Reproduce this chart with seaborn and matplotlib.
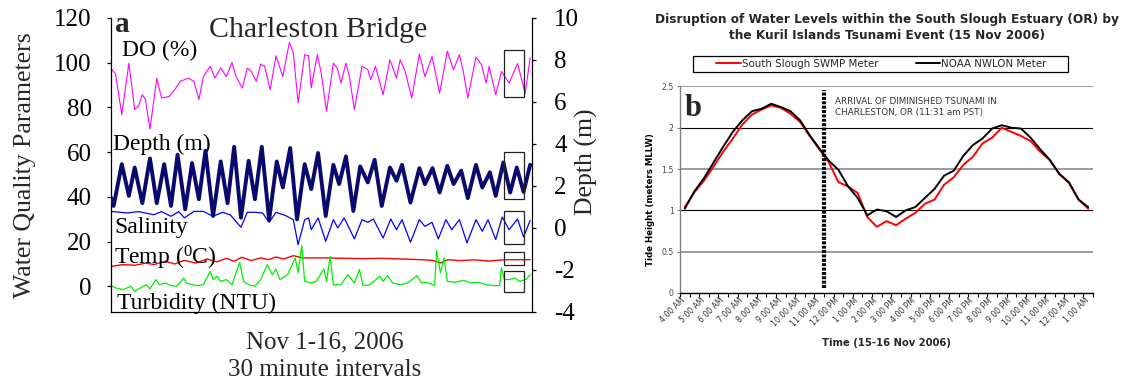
import numpy as np
import pandas as pd
import matplotlib
matplotlib.use("Agg")
import matplotlib.pyplot as plt
import matplotlib.transforms as mtransforms
from matplotlib.patches import Rectangle
import seaborn as sns

# ---------------- Panel a: Charleston Bridge (time in days from Nov 1) ----------------
DO_T = [0.03, 0.17, 0.41, 0.68, 0.90, 1.05, 1.19, 1.31, 1.48, 1.74, 1.92, 2.21, 2.42, 2.64, 2.79,
        2.93, 3.15, 3.34, 3.51, 3.77, 3.95, 4.17, 4.38, 4.60, 4.75, 4.99, 5.18, 5.33, 5.52, 5.69,
        5.84, 6.05, 6.27, 6.53, 6.78, 6.93, 7.11, 7.36, 7.51, 7.61, 7.84, 7.99, 8.19, 8.45, 8.60,
        8.74, 8.93, 9.06, 9.25, 9.54, 9.76, 9.87, 10.05, 10.34, 10.60, 10.85, 10.99, 11.18, 11.43,
        11.72, 11.93, 12.20, 12.49, 12.78, 13.02, 13.24, 13.39, 13.56, 13.87, 14.08, 14.26, 14.37,
        14.62, 14.84, 15.13, 15.45, 15.74, 15.93]
DO_V = [96.9, 95.1, 76.8, 99.8, 79.0, 80.8, 85.7, 83.5, 70.3, 93.1, 84.2, 84.9, 87.9, 91.7, 92.4,
        93.1, 91.7, 83.5, 93.8, 98.4, 93.1, 97.6, 93.8, 100.1, 93.8, 88.7, 97.6, 96.1, 91.7, 99.4,
        98.4, 87.9, 103.1, 93.8, 109.1, 104.3, 82.0, 103.6, 103.1, 88.7, 103.6, 95.4, 78.2, 99.8, 97.6,
        90.9, 99.8, 93.8, 79.0, 98.4, 96.9, 92.4, 98.4, 85.7, 101.3, 93.1, 101.3, 96.1, 84.2,
        103.9, 93.8, 102.8, 86.4, 105.1, 96.9, 103.6, 96.1, 84.2, 102.5, 99.1, 90.9, 98.4,
        85.7, 96.1, 90.9, 99.6, 86.4, 102.1]

DEPTH_T = [0.00, 0.10, 0.41, 0.68, 0.90, 1.19, 1.48, 1.74, 2.02, 2.28, 2.53, 2.82, 3.08, 3.34, 3.59,
           3.88, 4.17, 4.43, 4.68, 4.94, 5.23, 5.47, 5.73, 6.01, 6.30, 6.53, 6.81, 7.07, 7.36, 7.61,
           7.87, 8.16, 8.45, 8.67, 8.93, 9.21, 9.47, 9.76, 10.02, 10.29, 10.60, 10.85, 11.06, 11.38,
           11.72, 11.93, 12.22, 12.49, 12.78, 13.02, 13.31, 13.56, 13.87, 14.11, 14.40, 14.62, 14.91,
           15.17, 15.42, 15.68, 15.93]
DEPTH_M = [1.45, 1.05, 3.04, 1.53, 2.88, 1.18, 3.31, 1.18, 3.04, 1.05, 3.49, 0.89, 3.09, 1.37, 3.68,
           0.57, 3.17, 1.18, 3.87, 0.49, 3.20, 1.37, 3.87, 0.38, 3.17, 1.93, 3.81, 0.41, 3.04, 1.85,
           3.57, 0.57, 3.01, 2.09, 3.41, 0.81, 2.93, 2.17, 3.25, 1.05, 2.88, 2.25, 3.01, 1.21,
           2.85, 2.09, 2.85, 1.69, 2.96, 2.09, 2.73, 1.42, 3.01, 1.93, 2.65, 1.53, 3.12,
           1.69, 2.88, 1.72, 3.01]

SAL_T = [0.00, 0.61, 1.05, 1.63, 1.92, 2.28, 2.57, 2.79, 3.15, 3.51, 3.88, 4.24, 4.53, 4.94, 5.18,
         5.47, 5.76, 6.01, 6.27, 6.64, 6.93, 7.11, 7.36, 7.51, 7.61, 7.87, 8.16, 8.45, 8.62, 8.86,
         9.25, 9.54, 9.76, 9.97, 10.34, 10.63, 10.85, 11.06, 11.38, 11.72, 11.93, 12.20, 12.44,
         12.73, 12.95, 13.24, 13.53, 13.87, 14.11, 14.33, 14.62, 14.87, 15.13, 15.45, 15.68, 15.93]
SAL_V = [33.5, 32.8, 33.4, 32.0, 33.4, 31.3, 33.4, 30.6, 33.5, 33.5, 31.3, 33.1, 32.0, 26.4, 33.1,
         33.1, 32.8, 28.6, 33.1, 31.6, 29.8, 18.6, 29.8, 30.6, 25.3, 30.6, 20.1, 29.8, 26.1, 30.6,
         21.2, 29.8, 28.6, 30.1, 21.6, 30.1, 25.3, 29.8, 19.7, 29.8, 26.8, 28.6, 21.2,
         29.8, 25.3, 29.8, 19.4, 29.8, 24.6, 29.8, 20.9, 31.0, 25.3, 30.1, 22.1, 29.5]

TEMP_T = [0.00, 0.46, 0.90, 1.34, 1.63, 2.06, 2.42, 2.79, 3.22, 3.66, 4.02, 4.38, 4.68, 4.97, 5.33,
          5.69, 5.98, 6.27, 6.56, 6.93, 7.29, 8.16, 8.89, 9.61, 10.34, 11.06, 11.79, 12.22, 12.52,
          12.81, 13.24, 13.82, 14.40, 14.98, 15.93]
TEMP_V = [8.9, 9.7, 9.4, 10.4, 9.7, 11.2, 10.0, 11.6, 10.4, 12.2, 10.9, 12.5, 11.2, 13.0, 11.5,
          12.7, 11.9, 13.1, 12.2, 13.7, 12.7, 12.7, 12.5, 12.4, 12.5, 12.2, 11.9, 11.6, 10.4,
          11.9, 11.5, 11.8, 11.3, 11.9, 11.9]

TURB_T = [0.00, 0.17, 0.46, 0.75, 0.90, 1.19, 1.34, 1.48, 1.70, 1.84, 2.06, 2.28, 2.50, 2.76, 2.86,
          3.08, 3.30, 3.51, 3.77, 3.88, 4.02, 4.17, 4.38, 4.60, 4.89, 5.04, 5.23, 5.47, 5.69, 5.94,
          6.13, 6.27, 6.42, 6.71, 7.00, 7.11, 7.25, 7.36, 7.58, 7.80, 8.09, 8.19, 8.33, 8.45, 8.74,
          9.00, 9.25, 9.44, 9.58, 9.83, 10.22, 10.34, 10.51, 10.70, 10.99, 11.28, 11.62, 11.79,
          12.08, 12.30, 12.37, 12.52, 12.66, 12.78, 13.10, 13.39, 13.68, 13.97, 14.26, 14.55,
          14.77, 14.84, 14.95, 15.13, 15.35, 15.54, 15.80, 15.93]
TURB_V = [0.3, -0.7, -1.5, 0.0, -2.2, -0.3, 0.7, -1.2, 3.0, 0.7, 1.5, 0.3, 0.0, 3.7, 1.5,
          0.7, 0.3, 0.7, 6.7, 3.0, 4.5, 2.2, 3.0, 0.7, 10.7, 2.2, 0.7, 0.0, 3.0, 9.7,
          5.2, 7.7, 3.0, 5.2, 12.7, 6.0, 18.2, 2.2, 1.5, 2.2, 7.7, 2.2, 13.4, 0.7, 0.7,
          5.2, 1.5, 7.5, 0.3, 0.7, 4.5, 2.2, 4.8, 1.5, 0.7, 1.5, 4.8, 1.8,
          1.5, 0.3, 16.1, 6.0, 12.7, 2.2, 1.8, 2.7, 1.5, 1.8, 0.7, 0.3,
          0.3, 8.2, 3.0, 3.0, 3.7, 2.2, 3.3, 5.2]

# highlighted window (days) and value ranges of the boxes drawn around each series
HIGHLIGHT_T = (14.93, 15.71)
HIGHLIGHT_LEFT = [(84.6, 105.5), (19.0, 33.8), (9.3, 15.5), (-2.4, 7.0)]   # DO, salinity, temp, turbidity
HIGHLIGHT_DEPTH = (1.4, 3.6)

# ---------------- Panel b: tide heights, half-hourly from 4:00 AM ----------------
TIME_LABELS = ['4:00 AM', '5:00 AM', '6:00 AM', '7:00 AM', '8:00 AM', '9:00 AM', '10:00 AM',
               '11:00 AM', '12:00 PM', '1:00 PM', '2:00 PM', '3:00 PM', '4:00 PM', '5:00 PM',
               '6:00 PM', '7:00 PM', '8:00 PM', '9:00 PM', '10:00 PM', '11:00 PM', '12:00 AM',
               '1:00 AM']
SWMP = [1.04, 1.22, 1.36, 1.53, 1.71, 1.87, 2.04, 2.16, 2.22, 2.27, 2.24, 2.17, 2.07, 1.90, 1.74,
        1.58, 1.34, 1.29, 1.21, 0.92, 0.80, 0.87, 0.82, 0.90, 0.97, 1.08, 1.13, 1.31, 1.40, 1.55,
        1.65, 1.81, 1.88, 2.00, 1.95, 1.90, 1.84, 1.71, 1.61, 1.44, 1.33, 1.13, 1.02]
NWLON = [1.02, 1.23, 1.39, 1.58, 1.77, 1.95, 2.09, 2.20, 2.23, 2.29, 2.25, 2.20, 2.09, 1.91, 1.75,
         1.60, 1.49, 1.29, 1.15, 0.94, 1.01, 0.99, 0.92, 1.00, 1.04, 1.15, 1.26, 1.42, 1.48, 1.66,
         1.79, 1.87, 1.99, 2.03, 2.00, 1.99, 1.88, 1.74, 1.61, 1.44, 1.34, 1.13, 1.04]
TSUNAMI_X = 14.52          # category position of the arrival marker
TSUNAMI_Y = (0.06, 2.46)

# ---------------- styling ----------------
sns.set_theme(style="ticks")
SERIF = ['Liberation Serif', 'DejaVu Serif']
SANS = ['DejaVu Sans']
plt.rcParams['font.family'] = SERIF
plt.rcParams['axes.unicode_minus'] = False
plt.rcParams['mathtext.default'] = 'regular'

W, H = 1135, 383
fig = plt.figure(figsize=(W / 100, H / 100), dpi=100)
fig.patch.set_facecolor('white')

# ======================= Panel a =======================
axL = fig.add_axes([111 / W, 1 - 312 / H, 421 / W, 294 / H])
axD = axL.twinx()

sns.lineplot(x=DO_T, y=DO_V, ax=axL, color='#ff00ff', lw=0.8, estimator=None)
sns.lineplot(x=SAL_T, y=SAL_V, ax=axL, color='#0000ff', lw=0.9, estimator=None)
sns.lineplot(x=TEMP_T, y=TEMP_V, ax=axL, color='#ff0000', lw=1.0, estimator=None)
sns.lineplot(x=TURB_T, y=TURB_V, ax=axL, color='#00ee00', lw=0.9, estimator=None)
sns.lineplot(x=DEPTH_T, y=DEPTH_M, ax=axD, color='#0a0a6e', lw=2.8, estimator=None)

axL.set_xlim(0, 16)
axL.set_ylim(-11.5, 120)
axD.set_ylim(-4, 10)
axL.set_xticks([])
axD.set_xticks([])
axL.set_yticks(np.arange(0, 121, 20))
axD.set_yticks(np.arange(-4, 11, 2))
axL.set_xlabel('')
axL.set_ylabel('')
axD.set_ylabel('')
axL.set_facecolor('white')

for ax in (axL, axD):
    ax.spines['top'].set_visible(False)
    for s in ax.spines.values():
        s.set_color('black')
        s.set_linewidth(0.9)
axL.spines['right'].set_visible(False)
axD.spines['left'].set_visible(False)
axD.spines['bottom'].set_visible(False)

axL.tick_params(axis='y', direction='out', length=3, width=0.9, color='black',
                labelsize=18, pad=11, labelcolor='black')
axD.tick_params(axis='y', direction='out', length=3, width=0.9, color='black',
                labelsize=18, pad=13, labelcolor='black')
for lab in axL.get_yticklabels() + axD.get_yticklabels():
    lab.set_fontfamily(SERIF)

t0, t1 = HIGHLIGHT_T
for lo, hi in HIGHLIGHT_LEFT:
    axL.add_patch(Rectangle((t0, lo), t1 - t0, hi - lo, fill=False, ec='#222222', lw=0.9, zorder=5))
axD.add_patch(Rectangle((t0, HIGHLIGHT_DEPTH[0]), t1 - t0, HIGHLIGHT_DEPTH[1] - HIGHLIGHT_DEPTH[0],
                        fill=False, ec='#222222', lw=0.9, zorder=5))

lab_kw = dict(fontsize=17, ha='left', va='baseline', color='black', family=SERIF)
axL.text(0.41, 102.8, 'DO (%)', **lab_kw)
axL.text(0.07, 61.1, 'Depth (m)', **lab_kw)
axL.text(0.11, 23.9, 'Salinity', **lab_kw)
axL.text(0.11, 9.7, r'Temp ($^0$C)', **lab_kw)
axL.text(0.22, -10.1, 'Turbidity (NTU)', **lab_kw)

axL.text(0.01, 0.9534, 'a', transform=axL.transAxes, fontsize=21, fontweight='bold',
         ha='left', va='baseline', family=SERIF)
axL.text(0.4917, 0.9344, 'Charleston Bridge', transform=axL.transAxes, fontsize=21.5,
         ha='center', va='baseline', family=SERIF)

fig.text(25 / W, 1 - 165 / H, 'Water Quality Parameters', rotation=90, ha='center', va='center',
         fontsize=18.5, family=SERIF)
fig.text(586.5 / W, 1 - 161.7 / H, 'Depth (m)', rotation=90, ha='center', va='center',
         fontsize=18.5, family=SERIF)
fig.text(325 / W, 1 - 348.3 / H, 'Nov 1-16, 2006', ha='center', va='baseline', fontsize=18, family=SERIF)
fig.text(325 / W, 1 - 376 / H, '30 minute intervals', ha='center', va='baseline', fontsize=18, family=SERIF)

# ======================= Panel b =======================
axT = fig.add_axes([680 / W, 1 - 293 / H, 413 / W, 206.6 / H])
xcat = np.arange(len(SWMP))
sns.lineplot(x=xcat, y=SWMP, ax=axT, color='#ff0000', lw=1.4, label='South Slough SWMP Meter')
sns.lineplot(x=xcat, y=NWLON, ax=axT, color='black', lw=1.4, label='NOAA NWLON Meter')
handles, labels = axT.get_legend_handles_labels()
if axT.get_legend() is not None:
    axT.get_legend().remove()

axT.set_xlim(-0.5, len(SWMP) - 0.5)
axT.set_ylim(0, 2.5)
axT.set_facecolor('white')

yt = np.arange(0, 2.51, 0.5)
axT.set_yticks(yt)
axT.set_yticklabels(['0', '0.5', '1', '1.5', '2', '2.5'])
axT.yaxis.grid(True)
for gl, v in zip(axT.get_ygridlines(), yt):
    if abs(v - round(v)) < 1e-9:
        gl.set_color('black'); gl.set_linewidth(0.8)
    else:
        gl.set_color('#8a8a8a'); gl.set_linewidth(1.2)
axT.xaxis.grid(False)
axT.set_axisbelow(True)

axT.set_xticks(np.arange(0, len(SWMP), 2))
axT.set_xticklabels(TIME_LABELS, rotation=45, ha='right', va='top', rotation_mode='anchor')
axT.set_xticks(np.arange(-0.5, len(SWMP), 1), minor=True)
axT.tick_params(axis='x', which='major', length=0, pad=2, labelsize=5.6, labelcolor='#333333')
axT.tick_params(axis='x', which='minor', length=3, width=0.8, direction='out', color='black')
axT.tick_params(axis='y', length=2.5, width=0.8, direction='out', color='#808080',
                labelsize=5.6, labelcolor='#444444', pad=2)
offset = mtransforms.ScaledTranslation(-4 / 100, 0, fig.dpi_scale_trans)
for lab in axT.get_xticklabels():
    lab.set_fontfamily(SANS)
    lab.set_transform(lab.get_transform() + offset)
for lab in axT.get_yticklabels():
    lab.set_fontfamily(SANS)

for side in ('top', 'right'):
    axT.spines[side].set_visible(False)
axT.spines['left'].set_color('#808080')
axT.spines['left'].set_linewidth(1.0)
axT.spines['bottom'].set_color('black')
axT.spines['bottom'].set_linewidth(1.0)

axT.vlines(TSUNAMI_X, TSUNAMI_Y[0], TSUNAMI_Y[1], colors='black', lw=3.0,
           linestyles=(0, (0.7, 0.35)), zorder=4)
axT.text(15.6, 2.25, 'ARRIVAL OF DIMINISHED TSUNAMI IN\nCHARLESTON, OR (11:31 am PST)',
         fontsize=6.3, color='#333333', ha='left', va='center', family=SANS, linespacing=1.2)
axT.text(0.01, 0.965, 'b', transform=axT.transAxes, fontsize=22, fontweight='bold',
         ha='left', va='top', family=SERIF)

axT.set_xlabel('')
axT.set_ylabel('Tide Height (meters MLLW)', fontsize=6.2, fontweight='bold', family=SANS, color='black')
axT.yaxis.set_label_coords(-0.06, 0.45)
fig.text(886.5 / W, 1 - 343 / H, 'Time (15-16 Nov 2006)', ha='center', va='center',
         fontsize=7.2, fontweight='bold', family=SANS)

fig.text(887 / W, 1 - 19.3 / H, 'Disruption of Water Levels within the South Slough Estuary (OR) by',
         ha='center', va='center', fontsize=8.7, fontweight='bold', family=SANS)
fig.text(887 / W, 1 - 35.7 / H, 'the Kuril Islands Tsunami Event (15 Nov 2006)',
         ha='center', va='center', fontsize=8.7, fontweight='bold', family=SANS)

fig.patches.append(Rectangle((693 / W, 1 - 71.7 / H), 375 / W, 15.7 / H, transform=fig.transFigure,
                             fill=False, ec='black', lw=0.9))
fig.legend(handles, labels, loc='center', bbox_to_anchor=(881.5 / W, 1 - 63.8 / H), ncol=2,
           frameon=False, handlelength=2.4, handletextpad=0.1, columnspacing=3.6,
           prop={'family': SANS, 'size': 7.4})

fig.savefig('out.png', dpi=100, facecolor='white')
